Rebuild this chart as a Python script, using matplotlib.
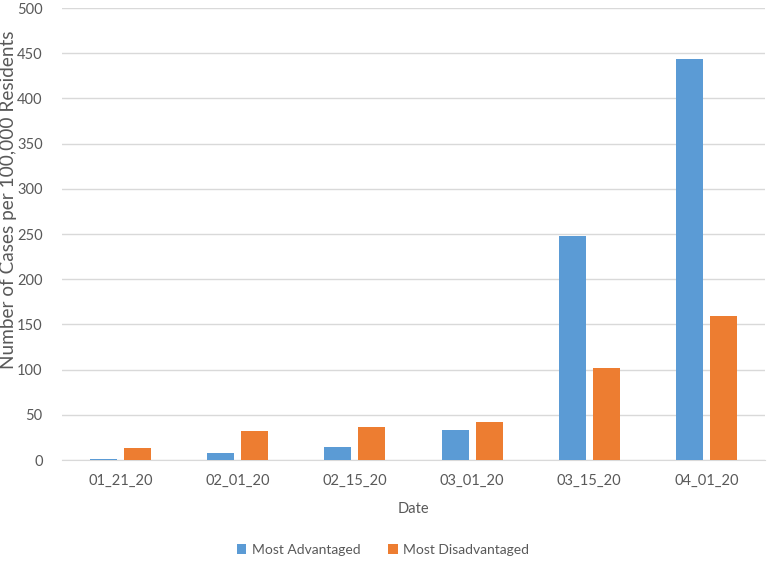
import numpy as np
import matplotlib.pyplot as plt

plt.rcParams['font.family'] = ['Lato', 'DejaVu Sans']

# --- data ---
dates = ["01_21_20", "02_01_20", "02_15_20", "03_01_20", "03_15_20", "04_01_20"]
most_advantaged = [1, 8, 14, 33, 248, 444]
most_disadvantaged = [13, 32, 37, 42, 102, 159]

blue = "#5B9BD5"
orange = "#ED7D31"
text_gray = "#595959"

fig = plt.figure(figsize=(7.67, 5.61), dpi=100)
ax = fig.add_axes([62 / 767, 1 - 460 / 561, 703 / 767, 452 / 561])

x = np.arange(len(dates))
w = 0.23
gap = 0.06
ax.bar(x - (w + gap) / 2, most_advantaged, width=w, color=blue, label="Most Advantaged", zorder=3)
ax.bar(x + (w + gap) / 2, most_disadvantaged, width=w, color=orange, label="Most Disadvantaged", zorder=3)

ax.set_xlim(-0.5, len(dates) - 0.5)
ax.set_ylim(0, 500)
ax.set_yticks(range(0, 501, 50))
ax.set_xticks(x)
ax.set_xticklabels(dates)

ax.grid(axis="y", color="#D9D9D9", linewidth=1, zorder=0)
for s in ["top", "right", "left"]:
    ax.spines[s].set_visible(False)
ax.spines["bottom"].set_color("#D9D9D9")
ax.tick_params(axis="both", length=0, colors=text_gray, labelsize=10.5)
ax.tick_params(axis="y", pad=14)
ax.tick_params(axis="x", pad=10)

ax.set_xlabel("Date", color=text_gray, fontsize=10.5, labelpad=10)
ylab = ax.set_ylabel("Number of Cases per 100,000 Residents", color=text_gray, fontsize=10.5)
ax.yaxis.set_label_coords(-45 / 703, 260 / 452)

# stretch the y label to the length it has in the reference (~340 px)
fig.canvas.draw()
h = ylab.get_window_extent().height
ylab.set_fontsize(10.5 * 340 / h)

leg = fig.legend(loc="center", bbox_to_anchor=(383 / 767, 1 - 550 / 561), ncol=2, frameon=False,
                 fontsize=10, handlelength=0.7, handleheight=0.7, columnspacing=2.0, handletextpad=0.4)
for t in leg.get_texts():
    t.set_color(text_gray)

fig.savefig("out.png", dpi=100)
